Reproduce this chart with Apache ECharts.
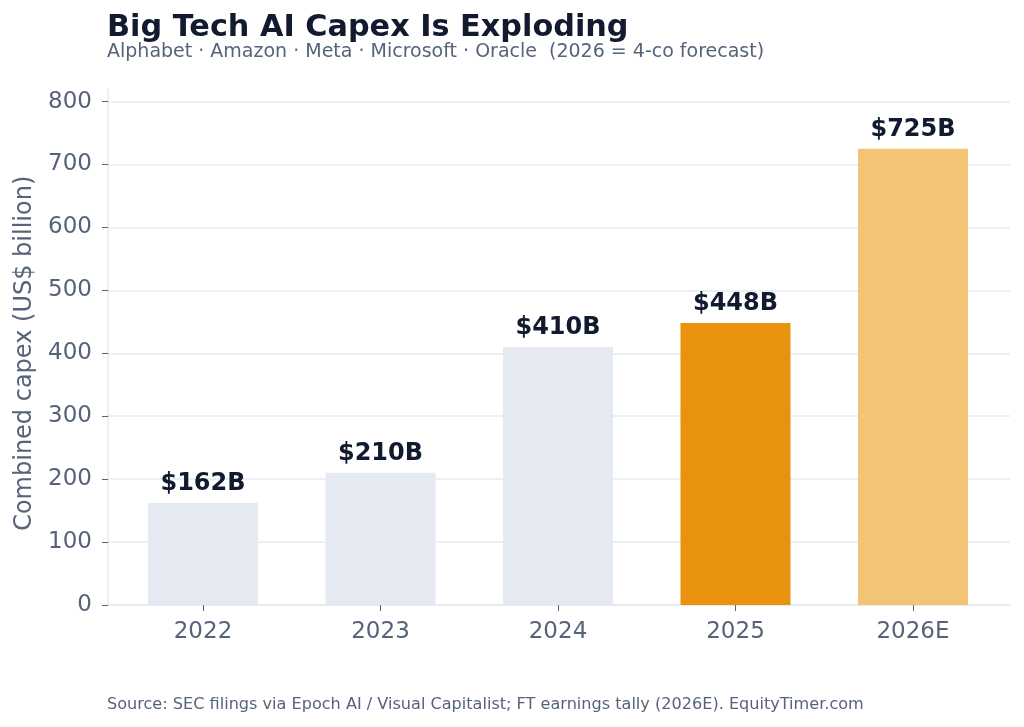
<!DOCTYPE html>
<html><head><meta charset="utf-8">
<script src="https://cdn.jsdelivr.net/npm/echarts@6/dist/echarts.min.js"></script>
<style>html,body{margin:0;padding:0;background:#fff}#c{width:1024px;height:727px}</style>
</head><body><div id="c"></div>
<script>
var categories = ['2022', '2023', '2024', '2025', '2026E'];
var capex = [162, 210, 410, 448, 725];
var barColors = ['#e5e9f2', '#e5e9f2', '#e5e9f2', '#e8920e', '#f4c476'];
var yTicks = [0, 100, 200, 300, 400, 500, 600, 700, 800];

var FONT = 'DejaVu Sans';
var axisGray = '#56637a';
var gridColor = '#e6eaf1';
var ink = '#111a2e';

var chart = echarts.init(document.getElementById('c'), null, {renderer: 'canvas'});
var gBottom = 122, gLeft = 108, gRight = 14;
var unit = (605 - 89) / 820;
var top800 = 605 - 800 * unit;

chart.setOption({
  animation: false,
  backgroundColor: '#fff',
  textStyle: {fontFamily: FONT},
  title: [
    {text: 'Big Tech AI Capex Is Exploding', left: 102, top: 8,
     textStyle: {fontFamily: FONT, fontWeight: 'bold', fontSize: 30.3, color: ink}},
    {text: 'Alphabet · Amazon · Meta · Microsoft · Oracle  (2026 = 4-co forecast)', left: 102, top: 38,
     textStyle: {fontFamily: FONT, fontWeight: 'normal', fontSize: 19, color: axisGray}},
    {text: 'Source: SEC filings via Epoch AI / Visual Capitalist; FT earnings tally (2026E). EquityTimer.com', left: 102, top: 692,
     textStyle: {fontFamily: FONT, fontWeight: 'normal', fontSize: 16.1, color: axisGray}}
  ],
  grid: [
    {left: gLeft, right: gRight, top: 89, bottom: gBottom},
    {left: gLeft, right: gRight, top: top800, bottom: gBottom},
    {left: 114.25, right: 22.25, top: top800, bottom: gBottom}
  ],
  xAxis: [
    {gridIndex: 0, type: 'value', min: 0, max: 1, axisLine: {show: true, lineStyle: {color: gridColor, width: 1.5}},
     axisTick: {show: false}, axisLabel: {show: false}, splitLine: {show: false}},
    {gridIndex: 1, type: 'value', min: 0, max: 1, show: false},
    {gridIndex: 2, type: 'category', data: categories,
     axisLine: {show: false},
     axisTick: {show: true, alignWithLabel: true, length: 6, lineStyle: {color: axisGray}},
     axisLabel: {color: axisGray, fontSize: 23, margin: 16, fontFamily: FONT}}
  ],
  yAxis: [
    {gridIndex: 0, type: 'value', min: 0, max: 820, axisLine: {show: true, lineStyle: {color: gridColor, width: 1.5}},
     axisTick: {show: false}, axisLabel: {show: false}, splitLine: {show: false}},
    {gridIndex: 1, type: 'value', min: yTicks[0], max: yTicks[yTicks.length - 1], interval: 100,
     axisLine: {show: false},
     axisTick: {show: true, length: 6, lineStyle: {color: axisGray}},
     axisLabel: {color: axisGray, fontSize: 23, margin: 16, fontFamily: FONT},
     splitLine: {show: true, lineStyle: {color: gridColor, width: 1.5}},
     name: 'Combined capex (US$ billion)', nameLocation: 'middle', nameGap: 71,
     nameTextStyle: {color: axisGray, fontSize: 24, fontFamily: FONT}},
    {gridIndex: 2, type: 'value', min: 0, max: 800, show: false}
  ],
  series: [{
    type: 'bar', xAxisIndex: 2, yAxisIndex: 2, barWidth: 110,
    data: capex.map(function (v, i) { return {value: v, itemStyle: {color: barColors[i]}}; }),
    label: {show: true, position: 'top', distance: 7, formatter: function (p) { return '$' + p.value + 'B'; },
            fontFamily: FONT, fontWeight: 'bold', fontSize: 24, color: ink}
  }]
});
</script></body></html>
